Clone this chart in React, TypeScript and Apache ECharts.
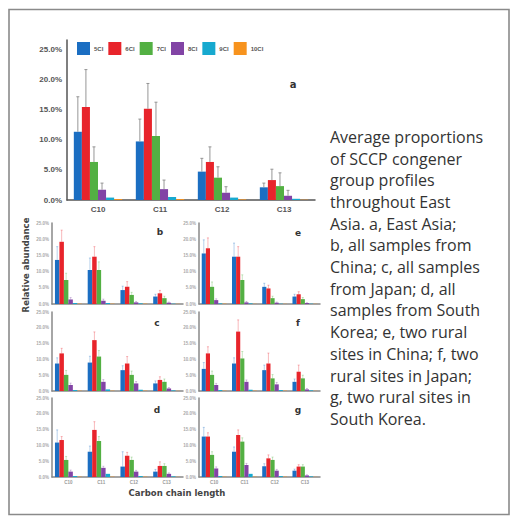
import React, { useEffect, useRef } from "react";
import * as echarts from "echarts";

const categories = ["C10", "C11", "C12", "C13"];
const seriesNames = ["5Cl", "6Cl", "7Cl", "8Cl", "9Cl", "10Cl"];
const colors = ["#1b6ec2", "#e8242b", "#53b043", "#8244a5", "#17a9cf", "#f7931e"];

// values in %, one row per congener group (5Cl..10Cl), columns C10..C13
const aValues = [
  [11.3, 9.7, 4.7, 2.1],
  [15.4, 15.1, 6.3, 3.3],
  [6.3, 10.6, 3.7, 2.3],
  [1.7, 1.8, 1.2, 0.7],
  [0.4, 0.5, 0.4, 0.2],
  [0.15, 0.15, 0.1, 0.05],
];
const aErrors = [
  [17.1, 13.4, 6.9, 2.8],
  [21.6, 19.3, 8.8, 5.1],
  [8.8, 16.2, 5.5, 4.5],
  [2.8, 3.3, 2.2, 1.6],
];
const bValues = [
  [13.6, 10.5, 4.3, 2.3],
  [19.2, 14.6, 5.3, 3.3],
  [7.4, 10.5, 2.8, 1.8],
  [1.4, 1.0, 0.5, 0.4],
  [0.3, 0.3, 0.2, 0.1],
  [0.1, 0.1, 0.1, 0.05],
];
const bErrors = [
  [17.7, 14.2, 5.5, 3.0],
  [22.8, 17.7, 6.9, 4.2],
  [9.5, 13.0, 3.6, 2.4],
  [2.0, 1.5, 0.8, 0.6],
];
const eValues = [
  [15.6, 14.6, 5.3, 2.3],
  [17.2, 14.6, 4.8, 3.0],
  [5.3, 7.4, 1.8, 1.5],
  [1.2, 0.5, 0.4, 0.3],
  [0.2, 0.2, 0.1, 0.1],
  [0.1, 0.05, 0.05, 0.05],
];
const eErrors = [
  [19.8, 18.8, 6.4, 3.0],
  [20.4, 17.7, 5.8, 3.8],
  [6.8, 9.0, 2.4, 2.0],
  [1.6, 0.8, 0.6, 0.4],
];
const cValues = [
  [8.7, 9.0, 6.6, 2.4],
  [11.9, 16.1, 8.7, 3.5],
  [5.1, 10.9, 5.1, 2.9],
  [1.9, 2.9, 2.4, 0.8],
  [0.3, 0.5, 0.4, 0.2],
  [0.1, 0.1, 0.1, 0.05],
];
const cErrors = [
  [10.5, 11.0, 8.0, 3.2],
  [13.5, 18.7, 10.9, 4.5],
  [6.5, 12.8, 6.3, 3.8],
  [2.5, 3.6, 3.0, 1.1],
];
const fValues = [
  [7.0, 8.7, 6.6, 2.9],
  [11.9, 18.8, 8.7, 6.1],
  [5.1, 10.3, 4.0, 4.0],
  [1.9, 2.9, 2.1, 0.5],
  [0.3, 0.4, 0.3, 0.2],
  [0.1, 0.1, 0.1, 0.05],
];
const fErrors = [
  [9.0, 10.5, 8.2, 3.8],
  [14.0, 22.5, 12.0, 8.2],
  [6.3, 12.5, 5.2, 5.0],
  [2.4, 3.5, 2.7, 0.8],
];
const dValues = [
  [10.9, 8.0, 3.3, 1.7],
  [11.7, 14.9, 6.7, 3.5],
  [5.4, 11.4, 5.4, 3.5],
  [1.7, 2.9, 1.7, 1.0],
  [0.3, 1.0, 0.3, 0.2],
  [0.1, 0.1, 0.1, 0.05],
];
const dErrors = [
  [14.9, 9.8, 8.0, 2.4],
  [12.8, 17.5, 7.8, 4.8],
  [6.5, 12.8, 6.3, 4.2],
  [2.2, 3.4, 2.1, 1.3],
];
const gValues = [
  [12.8, 8.0, 3.4, 2.0],
  [12.8, 13.3, 5.9, 3.3],
  [7.0, 11.2, 5.4, 3.3],
  [2.7, 3.8, 2.0, 0.5],
  [0.3, 1.0, 0.3, 0.2],
  [0.1, 0.1, 0.1, 0.05],
];
const gErrors = [
  [15.7, 9.5, 4.2, 2.5],
  [14.0, 14.9, 7.0, 3.9],
  [8.0, 12.4, 6.3, 3.9],
  [3.2, 4.3, 2.4, 0.7],
];

const captionLines = [
  "Average proportions",
  "of SCCP congener",
  "group profiles",
  "throughout East",
  "Asia. a, East Asia;",
  "b, all samples from",
  "China; c, all samples",
  "from Japan; d, all",
  "samples from South",
  "Korea; e, two rural",
  "sites in China; f, two",
  "rural sites in Japan;",
  "g, two rural sites in",
  "South Korea.",
];

type Panel = {
  letter: string;
  values: number[][];
  errors: number[][];
  grid: { left: number; top: number; width: number; height: number };
  max: number;
  big: boolean;
  showX: boolean;
  gap: number;
  letterPos: [number, number];
};

const panels: Panel[] = [
  { letter: "a", values: aValues, errors: aErrors, grid: { left: 67, top: 40, width: 248, height: 160 }, max: 26.5, big: true, showX: true, gap: 0.22, letterPos: [293, 84] },
  { letter: "b", values: bValues, errors: bErrors, grid: { left: 52, top: 223, width: 131, height: 81 }, max: 25, big: false, showX: false, gap: 0.18, letterPos: [160, 232] },
  { letter: "e", values: eValues, errors: eErrors, grid: { left: 199, top: 223, width: 121, height: 81 }, max: 25, big: false, showX: false, gap: 0.18, letterPos: [298, 233] },
  { letter: "c", values: cValues, errors: cErrors, grid: { left: 52, top: 312, width: 131, height: 79 }, max: 25, big: false, showX: false, gap: 0.18, letterPos: [157, 323] },
  { letter: "f", values: fValues, errors: fErrors, grid: { left: 199, top: 312, width: 121, height: 79 }, max: 25, big: false, showX: false, gap: 0.18, letterPos: [298, 323] },
  { letter: "d", values: dValues, errors: dErrors, grid: { left: 52, top: 398, width: 131, height: 79 }, max: 25, big: false, showX: true, gap: 0.18, letterPos: [157, 410] },
  { letter: "g", values: gValues, errors: gErrors, grid: { left: 199, top: 398, width: 121, height: 79 }, max: 25, big: false, showX: true, gap: 0.18, letterPos: [298, 410] },
];

function buildOption() {
  const grid: any[] = [];
  const xAxis: any[] = [];
  const yAxis: any[] = [];
  const series: any[] = [];
  const graphic: any[] = [];

  panels.forEach((p, pi) => {
    grid.push({ ...p.grid, containLabel: false });
    const axisColor = p.big ? "#555" : "#888";
    xAxis.push({
      type: "category",
      gridIndex: pi,
      data: categories,
      axisLine: { show: true, lineStyle: { color: axisColor, width: 1.5 } },
      axisTick: { show: false },
      axisLabel: {
        show: p.showX,
        fontSize: p.big ? 8 : 4.5,
        fontWeight: "bold",
        color: p.big ? "#555" : "#999",
        margin: p.big ? 5 : 3,
      },
    });
    yAxis.push({
      type: "value",
      gridIndex: pi,
      min: 0,
      max: p.max,
      interval: 5,
      splitLine: { show: false },
      axisLine: { show: true, lineStyle: { color: axisColor, width: 1.5 } },
      axisTick: { show: false },
      axisLabel: {
        showMaxLabel: p.max === 25,
        formatter: (v: number) => (v % 5 === 0 ? `${v}.0%` : ""),
        fontSize: p.big ? 8 : 4.5,
        fontWeight: "bold",
        color: p.big ? "#555" : "#aaa",
        margin: p.big ? 5 : 3,
      },
    });
    p.values.forEach((vals, si) => {
      series.push({
        type: "bar",
        name: seriesNames[si],
        xAxisIndex: pi,
        yAxisIndex: pi,
        data: vals,
        barGap: 0,
        barCategoryGap: `${p.gap * 100}%`,
        itemStyle: { color: colors[si] },
        z: 2,
      });
    });
    p.errors.forEach((errs, si) => {
      const vals = p.values[si];
      const gap = p.gap;
      const n = p.values.length;
      const stroke = p.big ? "#8c8c8c" : colors[si];
      const opacity = p.big ? 0.9 : 0.4;
      series.push({
        type: "custom",
        xAxisIndex: pi,
        yAxisIndex: pi,
        data: errs.map((e, i) => [i, vals[i], e]),
        z: 3,
        silent: true,
        renderItem: (params: any, api: any) => {
          const x = api.value(0);
          const v = api.value(1);
          const e = api.value(2);
          const band = api.size([1, 0])[0];
          const groupW = band * (1 - gap);
          const bw = groupW / n;
          const cx = api.coord([x, 0])[0] - groupW / 2 + (si + 0.5) * bw;
          const yTop = api.coord([x, e])[1];
          const yBar = api.coord([x, v])[1];
          const cap = p.big ? 1.5 : 1;
          return {
            type: "group",
            children: [
              { type: "line", shape: { x1: cx, y1: yBar, x2: cx, y2: yTop }, style: { stroke, lineWidth: p.big ? 1 : 0.8, opacity } },
              { type: "line", shape: { x1: cx - cap, y1: yTop, x2: cx + cap, y2: yTop }, style: { stroke, lineWidth: p.big ? 1 : 0.8, opacity } },
            ],
          };
        },
      });
    });
    graphic.push({
      type: "text",
      x: p.letterPos[0],
      y: p.letterPos[1],
      style: {
        text: p.letter,
        font: `bold ${p.big ? 10 : 9}px "DejaVu Sans"`,
        fill: "#333",
        textAlign: "center",
        textVerticalAlign: "middle",
      },
    });
  });

  graphic.push(
    {
      type: "rect",
      shape: { x: 9, y: 9.5, width: 500, height: 505 },
      style: { fill: "none", stroke: "#8a8a8a", lineWidth: 1.6 },
      silent: true,
    },
    {
      type: "text",
      x: 26,
      y: 265,
      rotation: Math.PI / 2,
      style: {
        text: "Relative abundance",
        font: 'bold 8.5px "DejaVu Sans"',
        fill: "#444",
        textAlign: "center",
        textVerticalAlign: "middle",
      },
    },
    {
      type: "text",
      x: 177,
      y: 493,
      style: {
        text: "Carbon chain length",
        font: 'bold 8.5px "DejaVu Sans"',
        fill: "#444",
        textAlign: "center",
        textVerticalAlign: "middle",
      },
    },
    {
      type: "text",
      x: 330,
      y: 126,
      style: {
        text: captionLines.join("\n"),
        font: '16px "Open Sans"',
        lineHeight: 21.7,
        fill: "#333",
        textAlign: "left",
        textVerticalAlign: "top",
      },
    }
  );

  return {
    animation: false,
    backgroundColor: "#ffffff",
    legend: {
      data: seriesNames,
      left: 72,
      top: 37,
      icon: "rect",
      itemWidth: 13,
      itemHeight: 13,
      itemGap: 5,
      textStyle: { fontSize: 6, fontWeight: "bold", color: "#555", width: 14, padding: [0, 0, 0, -1] },
      selectedMode: false,
    },
    grid,
    xAxis,
    yAxis,
    series,
    graphic,
  };
}

export default function App() {
  const ref = useRef<HTMLDivElement>(null);
  useEffect(() => {
    document.body.style.margin = "0";
    const chart = echarts.init(ref.current!, undefined, { renderer: "svg" });
    chart.setOption(buildOption() as any);
    return () => chart.dispose();
  }, []);
  return <div ref={ref} style={{ width: 518, height: 523, position: "absolute", left: 0, top: 0 }} />;
}
